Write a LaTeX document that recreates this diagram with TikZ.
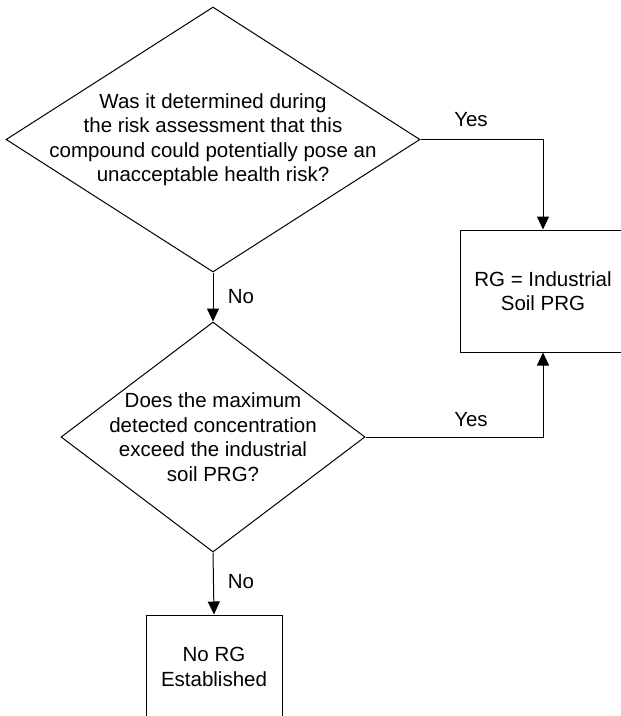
\documentclass[tikz,border=0pt]{standalone}
\usepackage{fontspec}
\setmainfont{Liberation Sans}
\usepackage{tikz}
\usetikzlibrary{arrows.meta, shapes.geometric}

\begin{document}
\begin{tikzpicture}[->, x=1pt, y=-1pt, >={Triangle[length=13pt,width=12pt]}, line width=1pt]
	\useasboundingbox (0,0) rectangle (621,716);
	\tikzstyle{question}=[diamond, draw=black, inner sep=0pt]
	\tikzstyle{result}=[rectangle, draw=black, inner sep=0pt]
	\tikzstyle{words}=[align=center, font=\fontsize{20.5}{24.5}\selectfont]
	% decisions
	\node[question, minimum width=414pt, minimum height=265pt] (q1) at (213,139.5) {};
	\node[words] (t1) at (q1.center) {Was it determined during\\the risk assessment that this\\compound could potentially pose an\\unacceptable health risk?};
	\node[question, minimum width=304pt, minimum height=230pt] (q2) at (213,437) {};
	\node[words] (t2) at (q2.center) {Does the maximum\\detected concentration\\exceed the industrial\\soil PRG?};
	% outcomes
	\node[result, minimum width=166pt, minimum height=122pt] (r1) at (543,291) {};
	\node[words] (t3) at (r1.center) {RG = Industrial\\Soil PRG};
	\node[result, minimum width=136pt, minimum height=104pt] (r2) at (214,667) {};
	\node[words] (t4) at (r2.center) {No RG\\Established};
	% arrows
	\draw (q1.east) -| (r1.north);
	\draw (q2.east) -| (r1.south);
	\path (q1.south) edge (q2.north);
	\path (q2.south) edge (r2.north);
	\foreach \name/\x/\y/\word in {y1/471/120/Yes, y2/471/420/Yes, n1/241/297/No, n2/241/582/No} {
	    \node[words] (\name) at (\x,\y) {\word};
	}
\end{tikzpicture}
\end{document}
